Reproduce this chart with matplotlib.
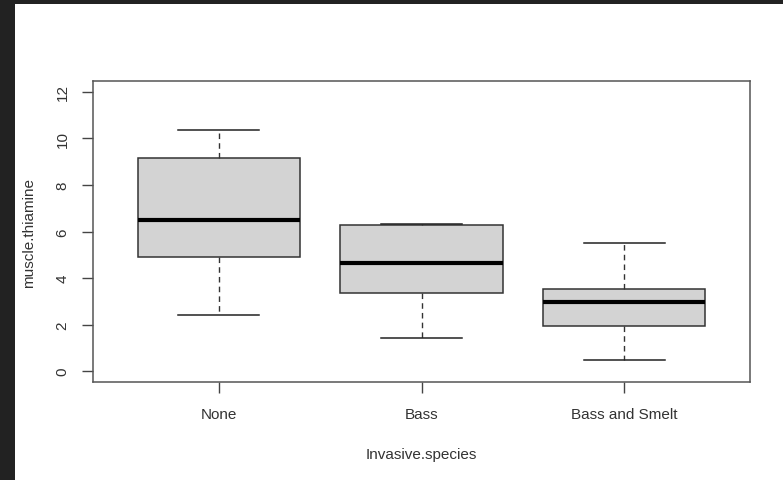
import matplotlib.pyplot as plt
from matplotlib.patches import Rectangle

# values
groups = ['None', 'Bass', 'Bass and Smelt']
whislo = [2.41, 1.42, 0.47]
q1 = [4.90, 3.35, 1.95]
med = [6.49, 4.65, 2.98]
q3 = [9.16, 6.26, 3.53]
whishi = [10.37, 6.32, 5.49]

plt.rcParams['font.family'] = ['Liberation Sans', 'DejaVu Sans']

fig = plt.figure(figsize=(7.83, 4.81), dpi=100)
fig.patch.set_facecolor('white')
# dark screenshot frame at top and left
fig.patches.append(Rectangle((0, 1 - 5 / 481), 1, 5 / 481, transform=fig.transFigure,
                             facecolor='#222222', edgecolor='none', zorder=0))
fig.patches.append(Rectangle((0, 0), 15 / 783, 1, transform=fig.transFigure,
                             facecolor='#222222', edgecolor='none', zorder=0))

ax = fig.add_axes([93 / 783, 98 / 481, 657 / 783, 301 / 481])

stats = [dict(label=g, whislo=a, q1=b, med=c, q3=d, whishi=e, fliers=[])
         for g, a, b, c, d, e in zip(groups, whislo, q1, med, q3, whishi)]

ax.bxp(stats, positions=[1, 2, 3], widths=0.8, patch_artist=True,
       boxprops=dict(facecolor='#d3d3d3', edgecolor='#333333', linewidth=1.1),
       medianprops=dict(color='black', linewidth=3),
       whiskerprops=dict(color='#333333', linestyle=(0, (4, 3)), linewidth=1),
       capprops=dict(color='#222222', linewidth=1.1),
       capwidths=0.4, showfliers=False)

ax.set_xlim(0.38, 3.62)
ax.set_ylim(-0.47, 12.47)
ax.set_yticks([0, 2, 4, 6, 8, 10, 12])
ax.set_xticks([1, 2, 3])
ax.set_xticklabels(groups)

for s in ax.spines.values():
    s.set_color('#555555')
    s.set_linewidth(1.1)

ax.tick_params(axis='both', direction='out', length=8, width=1, color='#444444',
               labelsize=11, labelcolor='#333333')
ax.tick_params(axis='x', pad=10)
ax.tick_params(axis='y', pad=9)
for lbl in ax.get_yticklabels():
    lbl.set_rotation(90)
    lbl.set_va('center')

ax.set_xlabel('Invasive.species', fontsize=11, color='#333333', labelpad=19)
ax.set_ylabel('muscle.thiamine', fontsize=11, color='#333333', labelpad=14)

fig.savefig('out.png', dpi=100)
